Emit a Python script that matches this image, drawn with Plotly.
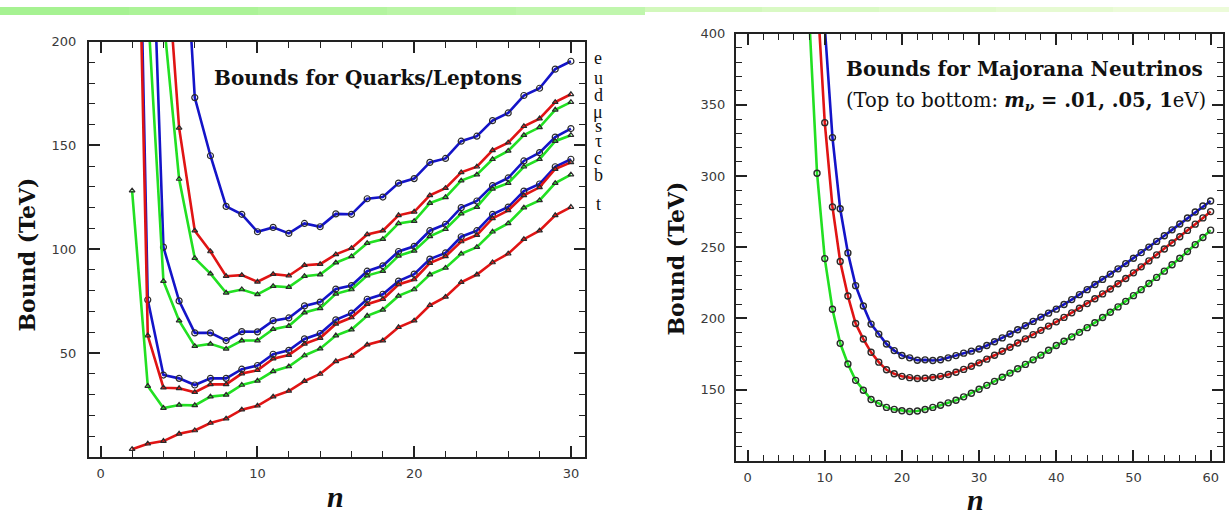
import plotly.graph_objects as go

W, H = 1229, 519

# ---------------- Left panel data: Bounds for Quarks/Leptons ----------------
lep_labels = ["e", "u", "d", "μ", "s", "τ", "c", "b", "t"]

e_n = list(range(5, 31))
e_v = [300, 173, 145, 120.6, 116.8, 108.4, 110.5, 107.6, 112.4, 110.8, 117, 116.8, 124.3, 125.1,
       131.8, 134, 141.8, 143.7, 152, 154.4, 161.9, 165.6, 174, 177.5, 186.7, 190.5]
u_n = list(range(4, 31))
u_v = [262, 158.4, 108.9, 98.9, 87, 87.5, 84.3, 88, 87.2, 92.3, 92.8, 97.5, 100.5, 107.1, 108.9,
       116.3, 118, 125.9, 129.4, 137, 139.7, 147.6, 151.3, 159.2, 162.9, 170.8, 174.6]
d_n = list(range(4, 31))
d_v = [212, 133.8, 95.7, 88.2, 79, 80.6, 78.2, 82.2, 81.7, 87, 87.8, 93.5, 96.5, 102.9, 104.8,
       112.4, 113.5, 122.2, 125, 133, 135.9, 143.3, 147.3, 154.9, 158.7, 167.1, 170.8]
mu_n = list(range(3, 31))
mu_v = [320, 101, 75.1, 59.7, 59.7, 56, 60.3, 60.2, 65.6, 66.9, 72.7, 74.5, 80.8, 82.5, 89.4, 92,
        98.9, 101.4, 108.9, 112, 120, 123.2, 130.6, 134.3, 142.5, 146.5, 154, 158.1]
s_n = list(range(3, 31))
s_v = [217, 84.6, 65.6, 53.3, 54.4, 52, 56, 56, 61.5, 63, 69.5, 71.5, 78.5, 80.6, 87.3, 89.4,
       96.8, 99.2, 106.2, 109.6, 117.1, 120.3, 129, 131.8, 139.7, 143.3, 152, 154.9]
tau_n = list(range(2, 31))
tau_v = [441, 75.6, 39.4, 37.8, 34.6, 37.8, 37.8, 42.2, 44, 49.4, 51.3, 56.8, 59.4, 66, 69.2, 75.9,
         78.3, 84.6, 88, 95.2, 98.2, 106, 108.9, 116.8, 120.3, 128, 131.4, 139.7, 143.3]
c_n = list(range(2, 31))
c_v = [412, 58.4, 33.3, 33, 31.1, 34.9, 34.9, 40.1, 41.7, 47.3, 49, 54.4, 57.2, 64, 67.1, 73.5,
       75.9, 83, 85.4, 93.3, 96.5, 103.7, 106.8, 114.8, 118.7, 125.9, 129.8, 138.6, 141.8]
b_n = list(range(2, 31))
b_v = [128.2, 34.1, 23.5, 25, 24.8, 29, 29.8, 34.6, 36.6, 41.2, 43.5, 48.8, 52.1, 58.4, 61.3, 67.9,
       70.8, 77.5, 80.6, 87.8, 91, 97.8, 101, 108.4, 112.4, 120, 123.5, 131.8, 135.9]
t_n = list(range(2, 31))
t_v = [3.7, 6.3, 7.6, 11.1, 12.7, 16.3, 18.4, 22.7, 24.6, 29, 31.7, 36.5, 39.9, 46, 48.6, 54, 56,
       62.4, 65.6, 73, 77, 84.1, 87.8, 93.6, 97.8, 104.8, 108.9, 116.3, 120.3]

left_x_ticks = [0, 10, 20, 30]
left_y_ticks = [50, 100, 150, 200]

# ---------------- Right panel data: Majorana neutrinos ----------------
nu_labels = ["mν = .01 eV", "mν = .05 eV", "mν = 1 eV"]
nu01_n = list(range(9, 61))
nu01_v = [520, 405, 327, 277, 246, 223, 208.7, 196, 189, 182, 177.4, 174, 172.3, 170.6, 170.9, 170.4,
          171, 172.3, 173.9, 175.6, 177, 178.5, 181, 183.6, 186.3, 189.1, 192, 194.9, 197.9, 200.9,
          203.7, 206.5, 209.8, 213.2, 216.7, 220.2, 223.8, 227.4, 231.1, 234.8, 238.5, 242.3, 246.2,
          250.1, 254.1, 258.1, 262.2, 266.3, 270.5, 274.7, 278.9, 282.5]
nu05_n = list(range(9, 61))
nu05_v = [430, 337.5, 278.3, 240, 215.7, 196.4, 185.5, 176.2, 169.3, 163.9, 161.1, 159.3, 158.4,
          157.8, 158, 158.5, 159.3, 160.6, 162.2, 164.2, 166.4, 168.8, 171.4, 174.1, 176.9, 179.8,
          182.7, 185.6, 188.6, 191.6, 194.6, 197.6, 200.7, 203.9, 207.1, 210.4, 213.8, 217.2, 220.7,
          224.3, 228, 232, 236.2, 240.4, 244.6, 248.8, 253, 257.4, 261.8, 266.2, 270.6, 275]
nu1_n = list(range(8, 61))
nu1_v = [410, 302, 242, 206.4, 182.5, 168, 156.5, 149.5, 143, 140.3, 137.5, 136.1, 135.2, 134.6, 135,
         136, 137.5, 139, 140.7, 142.5, 144.9, 147.4, 150.3, 153, 155.8, 158.7, 161.6, 164.6, 167.7,
         170.9, 174.2, 177.6, 181, 184, 187, 190.2, 193.5, 197, 200.6, 204.3, 208.1, 212, 216, 220.2,
         224.5, 228.8, 233.2, 237.7, 242.3, 247, 251.8, 256.8, 262]

right_x_ticks = [0, 10, 20, 30, 40, 50, 60]
right_y_ticks = [150, 200, 250, 300, 350, 400]

BLUE = "#1414c8"
RED = "#e01414"
GREEN = "#22e022"
MK = "#2a2a2a"

def px(x):
    return x / W

def py(y):
    return 1 - y / H

fig = go.Figure()

left_series = [
    (e_n, e_v, BLUE, "circle-open"),
    (u_n, u_v, RED, "triangle-up-open"),
    (d_n, d_v, GREEN, "triangle-up-open"),
    (mu_n, mu_v, BLUE, "circle-open"),
    (s_n, s_v, GREEN, "triangle-up-open"),
    (tau_n, tau_v, BLUE, "circle-open"),
    (c_n, c_v, RED, "triangle-up-open"),
    (b_n, b_v, GREEN, "triangle-up-open"),
    (t_n, t_v, RED, "triangle-up-open"),
]
for (xs, ys, col, sym), lab in zip(left_series, lep_labels):
    fig.add_trace(go.Scatter(
        x=xs, y=ys, mode="lines+markers", name=lab, xaxis="x", yaxis="y",
        line=dict(color=col, width=2.6),
        marker=dict(symbol=sym, color=MK, size=6 if sym.startswith("circle") else 5,
                    line=dict(width=1.2, color=MK)),
        showlegend=False))

for xs, ys, col, lab in [(nu01_n, nu01_v, BLUE, nu_labels[0]),
                         (nu05_n, nu05_v, RED, nu_labels[1]),
                         (nu1_n, nu1_v, GREEN, nu_labels[2])]:
    fig.add_trace(go.Scatter(
        x=xs, y=ys, mode="lines+markers", name=lab, xaxis="x2", yaxis="y2",
        line=dict(color=col, width=2.6),
        marker=dict(symbol="circle-open", color=MK, size=6, line=dict(width=1.4, color=MK)),
        showlegend=False))

tickfont = dict(family="DejaVu Sans", size=13, color="#3a3a3a")
common = dict(showgrid=False, zeroline=False, showline=True, linecolor="#222", linewidth=2,
              mirror="ticks", ticks="inside", tickcolor="#222", tickwidth=1.5, tickfont=tickfont)

fig.update_layout(
    width=W, height=H, margin=dict(l=0, r=0, t=0, b=0),
    paper_bgcolor="white", plot_bgcolor="white",
    xaxis=dict(domain=[px(89), px(585)], range=[-0.75, 30.9], tickmode="array",
               tickvals=left_x_ticks, ticklen=11, ticklabelstandoff=4,
               minor=dict(tickmode="linear", tick0=0, dtick=2, ticklen=6, ticks="inside",
                          tickcolor="#222", tickwidth=1.3),
               anchor="y", **common),
    yaxis=dict(domain=[py(456), py(35)], range=[0, 200], tickmode="array",
               tickvals=left_y_ticks, ticklen=11, ticklabelstandoff=8,
               minor=dict(tickmode="linear", tick0=0, dtick=10, ticklen=6, ticks="inside",
                          tickcolor="#222", tickwidth=1.3),
               anchor="x", **common),
    xaxis2=dict(domain=[px(736), px(1223)], range=[-1.5, 61.6], tickmode="array",
                tickvals=right_x_ticks, ticklen=11, ticklabelstandoff=4,
                minor=dict(tickmode="linear", tick0=0, dtick=2, ticklen=6, ticks="inside",
                           tickcolor="#222", tickwidth=1.3),
                anchor="y2", **common),
    yaxis2=dict(domain=[py(460), py(27)], range=[100, 400], tickmode="array",
                tickvals=right_y_ticks, ticklen=11, ticklabelstandoff=6,
                minor=dict(tickmode="linear", tick0=100, dtick=10, ticklen=6, ticks="inside",
                           tickcolor="#222", tickwidth=1.3),
                anchor="x2", **common),
)

serif = "DejaVu Serif"
ann = []
ann.append(dict(text="<b>Bounds for Quarks/Leptons</b>", x=px(368), y=py(72), xref="paper",
                yref="paper", showarrow=False, xanchor="center", yanchor="middle",
                font=dict(family=serif, size=20, color="#111")))
ann.append(dict(text="<b>Bounds for Majorana Neutrinos</b>", x=px(844), y=py(63), xref="paper",
                yref="paper", showarrow=False, xanchor="left", yanchor="middle",
                font=dict(family=serif, size=20, color="#111")))
ann.append(dict(text="(Top to bottom: <b><i>m</i><sub><i>ν</i></sub> = .01, .05, 1</b>eV)",
                x=px(844), y=py(96), xref="paper", yref="paper", showarrow=False,
                xanchor="left", yanchor="middle",
                font=dict(family=serif, size=19.5, color="#111")))
for xc, yc in [(27, 251), (676, 255)]:
    ann.append(dict(text="<b>Bound (TeV)</b>", x=px(xc), y=py(yc), xref="paper", yref="paper",
                    showarrow=False, textangle=-90, xanchor="center", yanchor="middle",
                    font=dict(family=serif, size=22, color="#111")))
for xc, yc in [(335, 496), (975, 499)]:
    ann.append(dict(text="<b><i>n</i></b>", x=px(xc), y=py(yc), xref="paper", yref="paper",
                    showarrow=False, xanchor="center", yanchor="middle",
                    font=dict(family="Liberation Serif", size=30, color="#111")))
label_y_px = [52, 72, 89, 106, 121, 136, 153, 170, 200]
for lab, ly in zip(lep_labels, label_y_px):
    ann.append(dict(text=lab, x=px(598), y=py(ly), xref="paper", yref="paper", showarrow=False,
                    xanchor="center", yanchor="middle",
                    font=dict(family="Liberation Serif", size=18, color="#111")))
fig.update_layout(annotations=ann)

# top decorative green band
shapes = []
left_cols = ["#a6f292", "#acf398", "#b3f49f", "#baf5a6", "#c0f6ad"]
for i, col in enumerate(left_cols):
    shapes.append(dict(type="rect", xref="paper", yref="paper", x0=px(i * 129), x1=px((i + 1) * 129),
                       y0=py(8), y1=1, fillcolor=col, line=dict(width=0), layer="below"))
right_cols = ["#d2f8bc", "#d9f9c4", "#e0facb", "#e6fad2", "#ecfbd9"]
for i, col in enumerate(right_cols):
    shapes.append(dict(type="rect", xref="paper", yref="paper", x0=px(645 + i * 117),
                       x1=px(645 + (i + 1) * 117), y0=py(5), y1=1, fillcolor=col,
                       line=dict(width=0), layer="below"))
fig.update_layout(shapes=shapes)

fig.write_html("out.html")
